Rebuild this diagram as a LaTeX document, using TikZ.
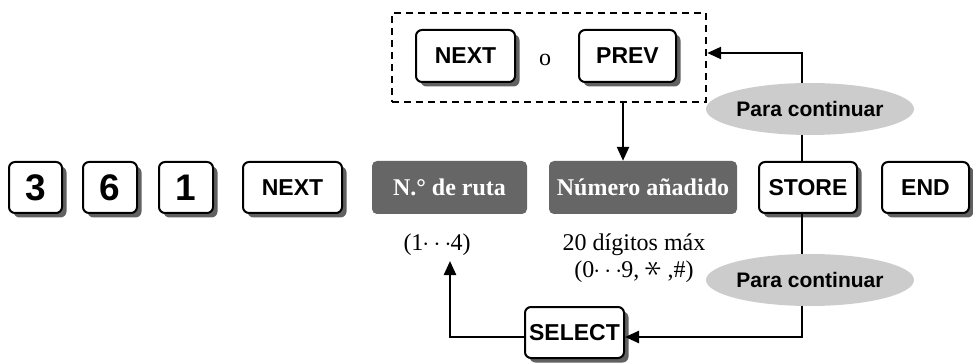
\documentclass[tikz,border=0pt]{standalone}
\usepackage{fontspec}
\usepackage{graphicx}
\setmainfont{Liberation Serif}
\setsansfont{Liberation Sans}
\usetikzlibrary{arrows.meta,shadows,shapes.geometric}
\tikzset{
  keybox/.style={draw=black, line width=2pt, rounded corners=6pt, fill=white,
    font=\sffamily\bfseries\fontsize{23}{23}\selectfont, inner sep=0pt,
    minimum height=51pt,
    drop shadow={shadow xshift=4.5pt, shadow yshift=-4.5pt, fill=black!62, opacity=1}},
  digitkey/.style={keybox, font=\sffamily\bfseries\fontsize{37}{37}\selectfont},
  graybox/.style={fill=black!60, rounded corners=5pt, text=white, inner sep=0pt,
    minimum height=53pt, font=\bfseries\fontsize{24}{24}\selectfont},
  pill/.style={ellipse, fill=black!20, inner sep=0pt, minimum width=166pt, minimum height=52pt,
    font=\sffamily\bfseries\fontsize{21}{21}\selectfont},
  plain/.style={font=\fontsize{24}{27}\selectfont, inner sep=0pt, align=center},
  conn/.style={line width=2.4pt, -{Triangle[length=14pt,width=12pt]}},
  seg/.style={line width=2.4pt},
}
\begin{document}
\begin{tikzpicture}[x=1pt,y=-1pt]
\useasboundingbox (0,0) rectangle (973,363);
% dashed group
\node[draw=black, dash pattern=on 7pt off 5pt, line width=2.4pt, minimum width=314pt, minimum height=89pt, inner sep=0pt] (dbox) at (549,57.5) {};
\node[keybox, minimum width=99pt, minimum height=52pt] (tnext) at (465.5,56) {NEXT};
\node[plain] (o) at (545,60) {o};
\node[keybox, minimum width=97pt, minimum height=52pt] (tprev) at (627.5,56) {PREV};
% main row
\node[digitkey, minimum width=53pt] (k3) at (35.5,187.5) {3};
\node[digitkey, minimum width=54pt] (k6) at (110,187.5) {6};
\node[digitkey, minimum width=54pt] (k1) at (186,187.5) {1};
\node[keybox, minimum width=99pt] (knext) at (292.5,187.5) {NEXT};
\node[graybox, minimum width=155pt] (ruta) at (449.5,187.5) {N.° de ruta};
\node[graybox, minimum width=188pt] (num) at (643,187.5) {Número añadido};
\node[keybox, minimum width=98pt] (store) at (808,187.5) {STORE};
\node[keybox, minimum width=87pt] (kend) at (925.5,187.5) {END};
% labels
\node[plain] (r14) at (437,245) {(1\kern-1pt$\cdots$\kern-1pt4)};
\node[plain] (dig) at (634,258.5) {20 dígitos máx\\(0\kern-1pt$\cdots$\kern-1pt9, \raisebox{0pt}[0.6em][0pt]{\rotatebox{90}{\scalebox{1.4}{$\ast$}}} ,\#)};
\node[keybox, minimum width=99pt] (sel) at (574.5,332.5) {SELECT};
% coordinates
\coordinate (vx) at (802,0);
\coordinate (dx) at (623,0);
\coordinate (topy) at (0,53);
\coordinate (boty) at (0,337);
\coordinate (tip) at (450,261);
% connectors
\draw[seg] (store.north -| vx) -- (vx |- 0,140);
\draw[conn] (vx |- 0,140) |- (dbox.east |- topy);
\draw[conn] (dbox.south -| dx) -- (num.north -| dx);
\draw[seg] (store.south -| vx) -- (vx |- 0,300);
\draw[conn] (vx |- 0,300) |- (sel.east |- boty);
\draw[conn] (sel.west |- boty) -| (tip);
% pills on top
\node[pill] (p1) at (810,109) {Para continuar};
\node[pill] (p2) at (810,280) {Para continuar};
\end{tikzpicture}
\end{document}
